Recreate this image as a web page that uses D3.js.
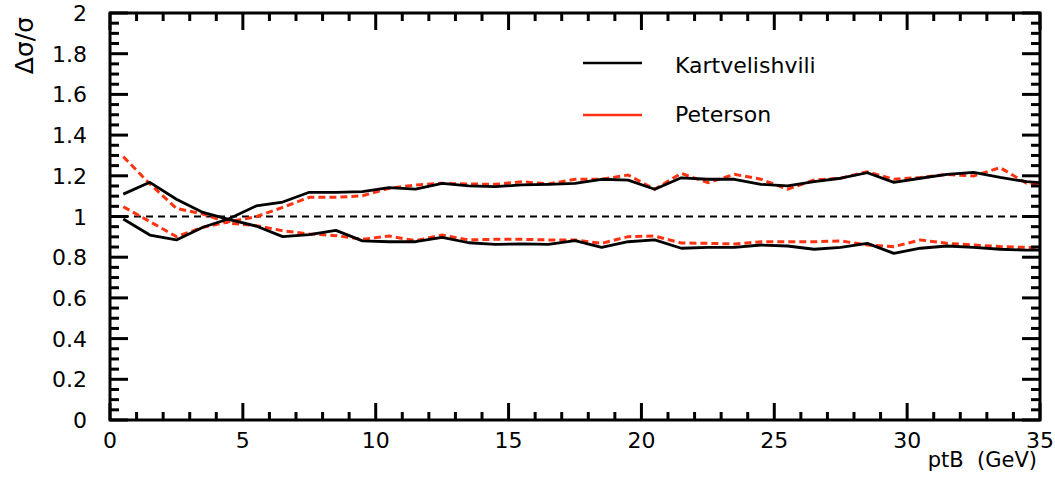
<!DOCTYPE html>
<html><head><meta charset="utf-8">
<script src="https://cdn.jsdelivr.net/npm/d3@7"></script>
<style>
html,body{margin:0;padding:0;background:#fff;}
text{font-family:"DejaVu Sans",sans-serif;fill:#000;}
</style></head>
<body>
<svg id="chart" width="1055" height="490"></svg>
<script>
// ptB bin centres (GeV)
const ptB = [0.5,1.5,2.5,3.5,4.5,5.5,6.5,7.5,8.5,9.5,10.5,11.5,12.5,13.5,14.5,15.5,16.5,17.5,18.5,19.5,20.5,21.5,22.5,23.5,24.5,25.5,26.5,27.5,28.5,29.5,30.5,31.5,32.5,33.5,34.5,35.5];
// Kartvelishvili, two curves
const kartA = [1.11,1.168,1.085,1.02,0.985,0.953,0.901,0.911,0.932,0.88,0.876,0.876,0.898,0.871,0.863,0.865,0.863,0.881,0.848,0.876,0.885,0.844,0.848,0.848,0.86,0.855,0.839,0.848,0.868,0.819,0.844,0.855,0.848,0.839,0.835,0.835];
const kartB = [0.988,0.909,0.885,0.947,0.99,1.052,1.071,1.119,1.119,1.122,1.142,1.135,1.163,1.15,1.147,1.155,1.158,1.163,1.183,1.179,1.134,1.19,1.183,1.183,1.158,1.15,1.171,1.188,1.215,1.168,1.188,1.207,1.217,1.192,1.171,1.161];
// Peterson, two curves
const petA = [1.294,1.16,1.04,1.012,0.967,0.955,0.93,0.914,0.906,0.888,0.904,0.881,0.909,0.885,0.888,0.888,0.885,0.885,0.868,0.901,0.904,0.87,0.868,0.865,0.876,0.876,0.876,0.88,0.86,0.852,0.885,0.868,0.86,0.852,0.848,0.85];
const petB = [1.048,0.975,0.901,0.947,0.975,0.999,1.045,1.094,1.094,1.102,1.138,1.155,1.163,1.16,1.158,1.171,1.16,1.183,1.183,1.204,1.134,1.212,1.166,1.207,1.183,1.134,1.179,1.188,1.22,1.183,1.192,1.207,1.199,1.24,1.163,1.157];
const xTicks = [0,5,10,15,20,25,30,35];
const yTicks = [0,0.2,0.4,0.6,0.8,1,1.2,1.4,1.6,1.8,2];
const legendNames = ["Kartvelishvili","Peterson"];

const svg = d3.select("#chart");
const L=110, R=1040, T=13, B=420;
const x = d3.scaleLinear().domain([0,35]).range([L,R]);
const y = d3.scaleLinear().domain([0,2]).range([B,T]);

svg.append("defs").append("clipPath").attr("id","clip")
  .append("rect").attr("x",L).attr("y",T).attr("width",R-L).attr("height",B-T);

const g = svg.append("g").attr("clip-path","url(#clip)");
// reference line at 1
g.append("line").attr("x1",x(0)).attr("x2",x(35)).attr("y1",y(1)).attr("y2",y(1))
  .attr("stroke","#000").attr("stroke-width",2).attr("stroke-dasharray","7,5");

const line = d3.line().x((d,i)=>x(ptB[i])).y(d=>y(d));
const RED="#ff3311";
[petA,petB].forEach(d=>{
  g.append("path").datum(d).attr("d",line).attr("fill","none").attr("stroke",RED)
   .attr("stroke-width",3).attr("stroke-dasharray","7,4");
});
[kartA,kartB].forEach(d=>{
  g.append("path").datum(d).attr("d",line).attr("fill","none").attr("stroke","#000")
   .attr("stroke-width",2.8).attr("stroke-linejoin","round");
});

// axes ticks
const xMinor = d3.range(0,36,1);
const yMinor = d3.range(0,2.0001,0.05);
const ax = svg.append("g").attr("stroke","#000").attr("stroke-width",3);
xMinor.forEach(v=>{
  const major = Math.abs(v%5)<1e-6;
  const len = major?17:8;
  ax.append("line").attr("x1",x(v)).attr("x2",x(v)).attr("y1",B).attr("y2",B-len);
  ax.append("line").attr("x1",x(v)).attr("x2",x(v)).attr("y1",T).attr("y2",T+len);
});
yMinor.forEach(v=>{
  const major = Math.abs(Math.round(v*5)-v*5)<1e-6;
  const len = major?18:9;
  ax.append("line").attr("x1",L).attr("x2",L+len).attr("y1",y(v)).attr("y2",y(v));
  ax.append("line").attr("x1",R).attr("x2",R-len).attr("y1",y(v)).attr("y2",y(v));
});
svg.append("rect").attr("x",L).attr("y",T).attr("width",R-L).attr("height",B-T)
  .attr("fill","none").attr("stroke","#000").attr("stroke-width",3);

// tick labels
svg.selectAll(".xl").data(xTicks).enter().append("text")
  .attr("x",d=>x(d)).attr("y",448).attr("text-anchor","middle")
  .attr("font-size",22).text(d=>d);
svg.selectAll(".yl").data(yTicks).enter().append("text")
  .attr("x",87).attr("y",d=>y(d)+8).attr("text-anchor","end")
  .attr("font-size",22).text(d=>d===0?"0":(d===1?"1":(d===2?"2":d.toFixed(1))));

// axis titles
svg.append("text").attr("x",1037).attr("y",467).attr("text-anchor","end")
  .attr("font-size",21).style("white-space","pre").text("ptB  (GeV)");
svg.append("text").attr("transform","translate(33,17) rotate(-90)")
  .attr("text-anchor","end").attr("font-size",25).text("Δσ/σ");

// legend
const leg = [[legendNames[0],"#000",63,73],[legendNames[1],RED,115,122]];
leg.forEach(([n,c,ly,ty])=>{
  svg.append("line").attr("x1",583).attr("x2",642).attr("y1",ly).attr("y2",ly)
    .attr("stroke",c).attr("stroke-width",2.5);
  svg.append("text").attr("x",675).attr("y",ty).attr("font-size",22).text(n);
});
</script>
</body></html>
